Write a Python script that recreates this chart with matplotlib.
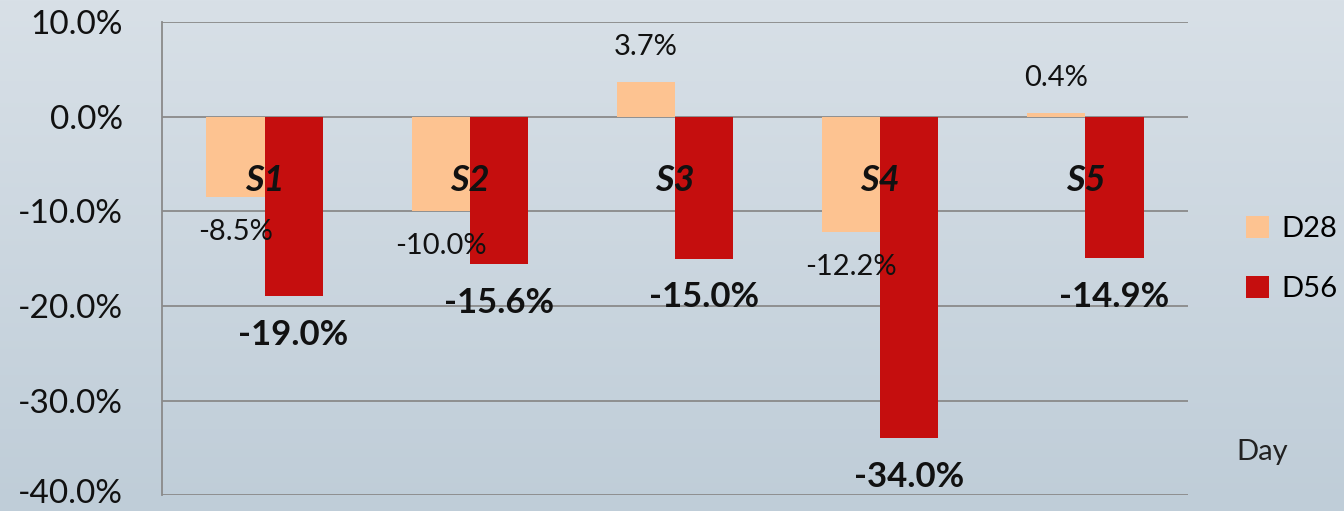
import numpy as np
import matplotlib.pyplot as plt
import matplotlib.transforms as mtransforms
from matplotlib.colors import LinearSegmentedColormap

# data
groups = ['S1', 'S2', 'S3', 'S4', 'S5']
d28 = [-8.5, -10.0, 3.7, -12.2, 0.4]
d56 = [-19.0, -15.6, -15.0, -34.0, -14.9]
yticks = [10, 0, -10, -20, -30, -40]

plt.rcParams['font.family'] = ['Lato', 'DejaVu Sans']

fig = plt.figure(figsize=(13.44, 5.11), dpi=100)

# soft grey-blue background gradient
bg = fig.add_axes([0, 0, 1, 1], zorder=-10)
grad = np.linspace(0, 1, 256).reshape(-1, 1)
cmap = LinearSegmentedColormap.from_list('bg', ['#d8e0e7', '#bfcdd8'])
bg.imshow(grad, aspect='auto', cmap=cmap, extent=[0, 1, 0, 1], origin='upper')
bg.axis('off')

ax = fig.add_axes([0.1205, 0.031, 0.7635, 0.926])
ax.patch.set_alpha(0)

x = np.arange(len(groups))
w = 0.283
b1 = ax.bar(x - w / 2, d28, w, color='#fdc391', label='D28', zorder=3)
b2 = ax.bar(x + w / 2, d56, w, color='#c50e0e', label='D56', zorder=3)

ax.set_xlim(-0.5, len(groups) - 0.5)
ax.set_ylim(-40, 10)
ax.set_yticks(yticks)
ax.set_yticklabels([f'{t:.1f}%' for t in yticks], fontsize=24, color='#111111')
ax.set_xticks([])
ax.yaxis.grid(True, color='#8a8a8a', linewidth=1.3, zorder=1)
ax.tick_params(axis='y', length=0, pad=28)
for s in ['top', 'right', 'bottom']:
    ax.spines[s].set_visible(False)
ax.spines['left'].set_color('#8a8a8a')
ax.spines['left'].set_linewidth(1.3)

# nudge the bottom tick label up so it stays inside the figure
lowest = ax.get_yticklabels()[-1]
lowest.set_transform(lowest.get_transform() +
                     mtransforms.ScaledTranslation(0, 3 / 72, fig.dpi_scale_trans))

# data labels
for xi, v in zip(x, d28):
    off = 25 if v >= 0 else -25
    ax.annotate(f'{v:.1f}%', (xi - w / 2, v), xytext=(0, off), textcoords='offset points',
                ha='center', va='center', fontsize=21, color='#111111', zorder=5)
for xi, v in zip(x, d56):
    ax.annotate(f'{v:.1f}%', (xi + w / 2, v), xytext=(0, -28), textcoords='offset points',
                ha='center', va='center', fontsize=25, fontweight='bold', color='#111111', zorder=5)

# category names inside plot
for xi, g in zip(x, groups):
    ax.text(xi, -6.8, g, ha='center', va='center', fontsize=26, fontweight='bold',
            fontstyle='italic', color='#111111', zorder=6)

leg = fig.legend(handles=[b1, b2], loc='center right', bbox_to_anchor=(0.995, 0.493),
                 frameon=False, fontsize=21, handlelength=0.8, handleheight=0.8,
                 labelspacing=1.15, handletextpad=0.4, borderpad=0.0, borderaxespad=0.0)
fig.text(0.92, 0.115, 'Day', fontsize=21, color='#222222', va='center')

fig.savefig('out.png', dpi=100)
